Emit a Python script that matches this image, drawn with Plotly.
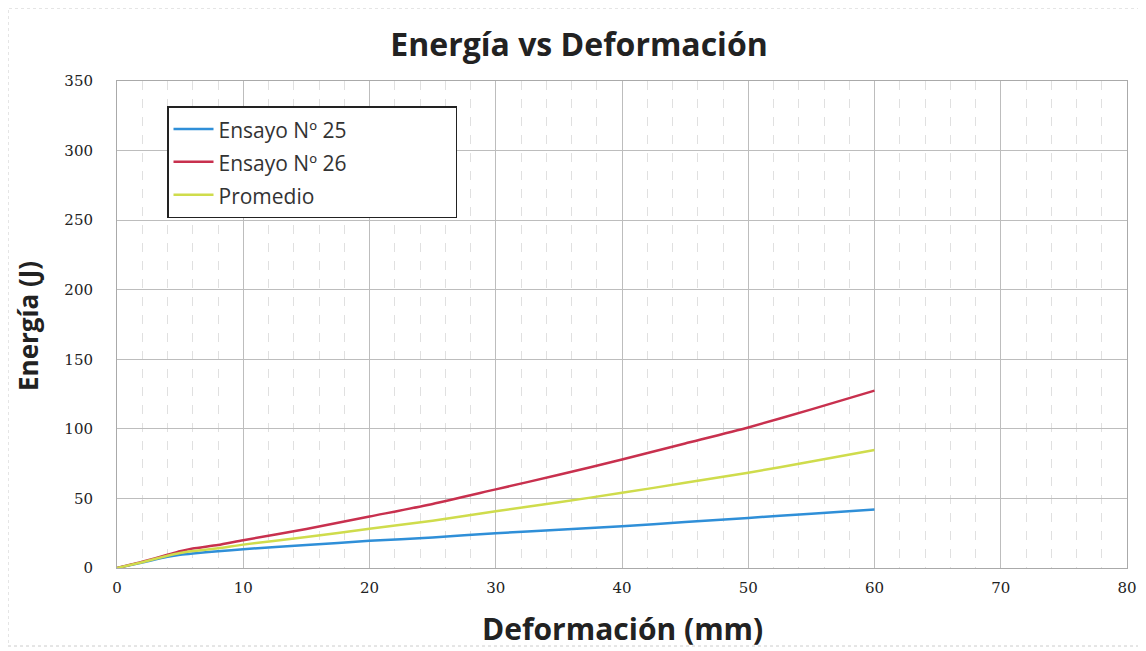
import plotly.graph_objects as go

deformacion = [0, 2, 4, 5, 6, 8, 10, 15, 20, 25, 30, 35, 40, 45, 50, 55, 60]
ensayo_25 = [0, 4.0, 8.0, 9.5, 10.5, 12.0, 13.5, 16.5, 19.5, 22.0, 25.0, 27.5, 30.0, 33.0, 36.0, 39.0, 42.0]
ensayo_26 = [0, 4.5, 9.5, 12.0, 14.0, 16.5, 20.0, 28.0, 37.0, 46.0, 56.5, 67.0, 78.0, 89.5, 101.0, 114.0, 127.5]
promedio = [0, 4.2, 8.8, 10.8, 12.2, 14.2, 16.8, 22.2, 28.2, 34.0, 40.8, 47.2, 54.0, 61.2, 68.5, 76.5, 84.8]

series_names = ["Ensayo Nº 25", "Ensayo Nº 26", "Promedio"]
colors = ["#2f8fd8", "#c8304e", "#cfdc4c"]

PAD = "&nbsp;" * 19

fig = go.Figure()
for name, ys, c in zip(series_names, [ensayo_25, ensayo_26, promedio], colors):
    fig.add_trace(go.Scatter(
        x=deformacion, y=ys, mode="lines",
        name=f"<span style='font-size:21px'>{name}{PAD}</span>",
        line=dict(color=c, width=2.5, shape="spline", smoothing=0.6)))

OFF = 8  # page body margin
W, H = 1146 - OFF, 651 - OFF
L, R, T, B = 117 - OFF, 19, 81 - OFF, 83
pw, ph = W - L - R, H - T - B


def px_x(p):
    return (p - OFF - L) / pw


def px_y(p):
    return (H - B - (p - OFF)) / ph


fig.update_layout(
    width=W, height=H,
    margin=dict(l=L, r=R, t=T, b=B, autoexpand=False),
    paper_bgcolor="white", plot_bgcolor="white",
    title=dict(text="<b>Energía vs Deformación</b>", x=px_x(579), xref="paper", xanchor="center",
               y=1 - (45 - OFF) / H, yanchor="middle",
               font=dict(family="Open Sans, sans-serif", size=32, color="#222222")),
    showlegend=True,
    legend=dict(x=px_x(167), y=px_y(106), xanchor="left", yanchor="top",
                bgcolor="white", bordercolor="#222222", borderwidth=1.5,
                font=dict(family="Open Sans, sans-serif", size=23, color="#333333"),
                itemwidth=40, tracegroupgap=0),
    xaxis=dict(range=[0, 80], dtick=10, tick0=0,
               showgrid=True, gridcolor="#bdbdbd", gridwidth=1,
               minor=dict(dtick=2, showgrid=True, gridcolor="#e0e0e0", griddash="dash", gridwidth=1),
               showline=True, linecolor="#aaaaaa", mirror=True, zeroline=False,
               ticks="", ticklabelstandoff=6,
               tickfont=dict(family="DejaVu Serif, serif", size=15, color="#222222")),
    yaxis=dict(range=[0, 350], dtick=50, tick0=0,
               showgrid=True, gridcolor="#bdbdbd", gridwidth=1,
               showline=True, linecolor="#aaaaaa", mirror=True, zeroline=False,
               ticks="", ticklabelstandoff=20,
               tickfont=dict(family="DejaVu Serif, serif", size=15, color="#222222")),
    annotations=[
        dict(text="<b>Deformación (mm)</b>", xref="paper", yref="paper",
             x=px_x(622), y=px_y(628), xanchor="center", yanchor="middle", showarrow=False,
             font=dict(family="Open Sans, sans-serif", size=30, color="#222222")),
        dict(text="<b>Energía (J)</b>", xref="paper", yref="paper", textangle=-90,
             x=px_x(28), y=px_y(326), xanchor="center", yanchor="middle", showarrow=False,
             font=dict(family="Open Sans, sans-serif", size=26, color="#222222")),
    ],
    shapes=[dict(type="rect", xref="paper", yref="paper",
                 x0=px_x(8), x1=px_x(1140), y0=px_y(646), y1=px_y(8),
                 line=dict(color="#cccccc", width=1, dash="dot"), layer="below")],
)

fig.write_html("out.html")
